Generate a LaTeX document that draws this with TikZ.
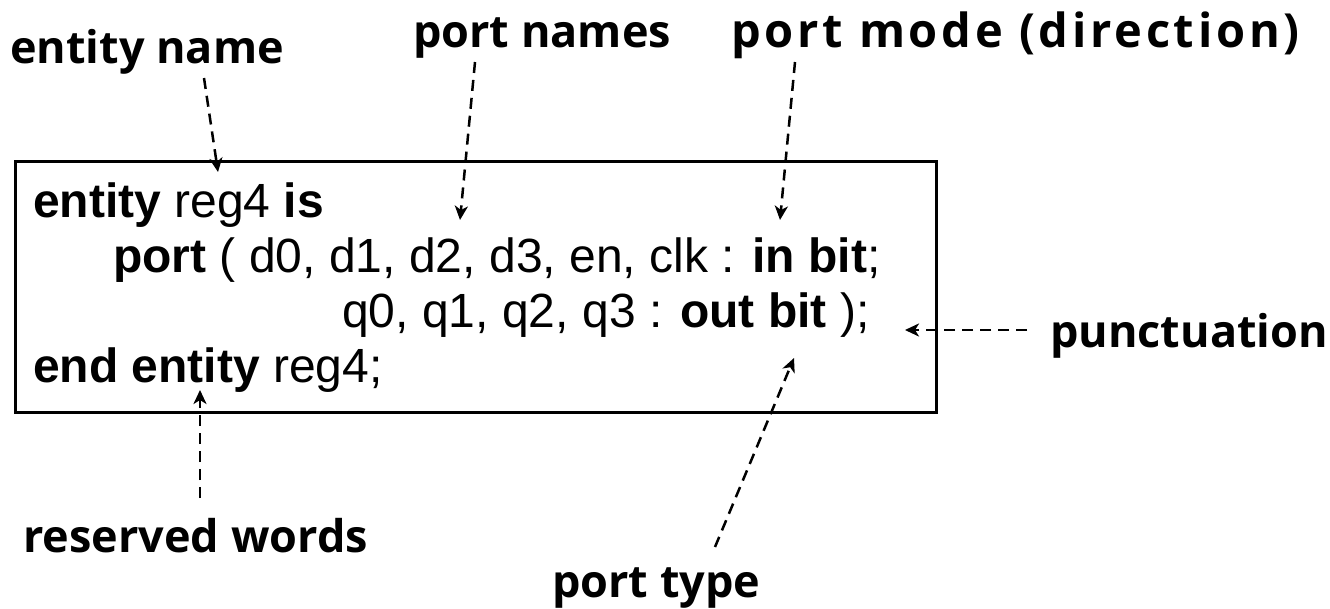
\documentclass[tikz,border=0pt]{standalone}
\usepackage{fontspec}
\usepackage{tikz}
\usetikzlibrary{arrows.meta}
\newfontfamily\codefont{Liberation Sans}
\newfontfamily\labelfont{Open Sans}

\begin{document}
\begin{tikzpicture}[x=1pt,y=-1pt,>={Stealth[length=14pt,width=13pt,inset=4pt]},
  codeline/.style={anchor=base west,inner sep=0pt,font=\codefont\fontsize{48}{55}\selectfont},
  tag/.style={anchor=base west,inner sep=0pt,font=\labelfont\bfseries\fontsize{45}{54}\selectfont},
  hint/.style={->,line width=2.5pt,dash pattern=on 11pt off 7pt}]
\useasboundingbox (0,0) rectangle (1330,608);
\node (codebox) [draw,line width=2.5pt,anchor=north west,inner sep=0pt,
  minimum width=921pt,minimum height=251pt] at (14,160) {};
\node (line1) [codeline] at (33,217) {\textbf{entity} reg4 \textbf{is}};
\node (line2) [codeline] at (113,272) {\textbf{port} ( d0, d1, d2, d3, en, clk : \textbf{in bit};};
\node (line3) [codeline] at (342,327) {q0, q1, q2, q3 : \textbf{out bit} );};
\node (line4) [codeline] at (33,382) {\textbf{end entity} reg4;};
\node (entname) [tag] at (10,63) {entity name};
\node (portnames) [tag] at (413,47) {port names};
\node (portmode) [tag] at (731,47) {\fontsize{47}{54}\selectfont\addfontfeature{LetterSpace=8}port mode (direction)};
\node (punct) [tag] at (1050,347) {punctuation};
\node (reserved) [tag] at (23,552) {reserved words};
\node (porttype) [tag] at (552,597) {port type};
\coordinate (enS) at (204,78);  \coordinate (enT) at (218,172);
\coordinate (pnS) at (475,62);  \coordinate (pnT) at (460,220);
\coordinate (pmS) at (795,62);  \coordinate (pmT) at (780,220);
\coordinate (puS) at (1027,330); \coordinate (puT) at (905,330);
\coordinate (rwS) at (200,498); \coordinate (rwT) at (200,390);
\coordinate (ptS) at (715,547); \coordinate (ptT) at (794,358);
\draw[hint] (enS) -- (enT);
\draw[hint] (pnS) -- (pnT);
\draw[hint] (pmS) -- (pmT);
\draw[hint] (puS) -- (puT);
\draw[hint] (rwS) -- (rwT);
\draw[hint] (ptS) -- (ptT);
\end{tikzpicture}
\end{document}
